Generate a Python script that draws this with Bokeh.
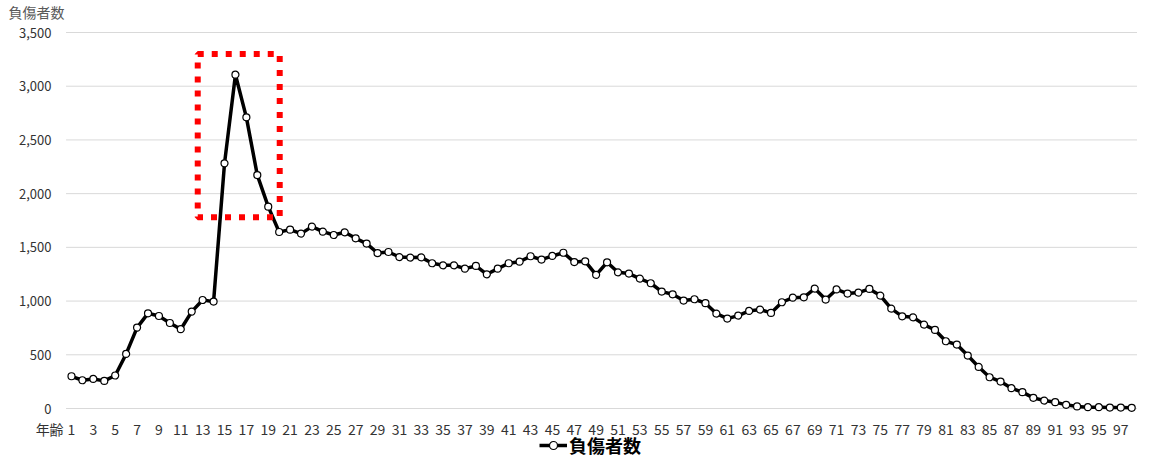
from bokeh.plotting import figure
from bokeh.models import Range1d, FixedTicker, Legend, LegendItem, NumeralTickFormatter
from bokeh.embed import file_html
from bokeh.resources import INLINE

ages = list(range(1, 99))
injured = [300, 263, 275, 257, 307, 508, 753, 886, 861, 796,
           738, 902, 1010, 995, 2282, 3107, 2710, 2173, 1879, 1643,
           1665, 1628, 1693, 1646, 1615, 1640, 1584, 1535, 1447, 1457,
           1410, 1405, 1407, 1352, 1333, 1333, 1302, 1327, 1249, 1302,
           1352, 1367, 1417, 1386, 1420, 1450, 1363, 1370, 1244, 1361,
           1268, 1256, 1209, 1166, 1088, 1063, 1005, 1017, 980, 884,
           837, 865, 908, 921, 890, 989, 1032, 1035, 1116, 1014,
           1108, 1070, 1079, 1113, 1051, 930, 858, 849, 781, 731,
           626, 595, 493, 387, 291, 251, 189, 152, 99, 74,
           59, 34, 19, 12, 12, 9, 9, 6]
x_ticks = list(range(1, 98, 2))
y_ticks = [0, 500, 1000, 1500, 2000, 2500, 3000, 3500]
series_name = "負傷者数"
y_title = "負傷者数"
x_title = "年齢"
x_title_pos = -1
# highlighted region (ages ~13-20, values ~1780-3300)
hl_left, hl_right, hl_bottom, hl_top = 12.55, 20.05, 1780, 3300

FONT = "Noto Sans CJK JP"

W, H = 1137, 459
LEFT, TOP = 30, 22
PX_X = 10.93           # pixels per age
PX_Y = 376 / 3500      # pixels per value unit
ZERO_Y, TOP_Y = 408, 32
x0 = 1 - (71 - LEFT) / PX_X
x1 = 1 + (W - 71) / PX_X
y1 = 3500 + (TOP_Y - TOP) / PX_Y
y0 = -(H - ZERO_Y) / PX_Y

p = figure(width=W, height=H, output_backend="svg", toolbar_location=None,
           x_range=Range1d(x0, x1), y_range=Range1d(y0, y1),
           min_border_left=LEFT, min_border_right=0, min_border_top=TOP, min_border_bottom=0)
p.outline_line_color = None

p.title.text = y_title
p.title.align = "left"
p.title.offset = 8 - LEFT
p.title.text_font = FONT
p.title.text_font_size = "14px"
p.title.text_font_style = "normal"
p.title.text_color = "#595959"
p.title.vertical_align = "middle"
p.title.standoff = 0

p.xgrid.grid_line_color = None
p.ygrid.grid_line_color = None
p.segment(x0=[0.5] * len(y_ticks), x1=[x1] * len(y_ticks), y0=y_ticks, y1=y_ticks,
          line_color="#d9d9d9", line_width=1)

p.xaxis.ticker = FixedTicker(ticks=[x_title_pos] + x_ticks)
p.xaxis.major_label_overrides = {x_title_pos: x_title}
p.xaxis.axis_line_color = None
p.xaxis.major_tick_line_color = None
p.xaxis.minor_tick_line_color = None
p.xaxis.major_tick_out = 0
p.xaxis.major_tick_in = 0
p.xaxis.major_label_text_font = FONT
p.xaxis.major_label_text_font_size = "14px"
p.xaxis.major_label_text_color = "#333333"
p.xaxis.major_label_standoff = -41

p.yaxis.ticker = FixedTicker(ticks=y_ticks)
p.yaxis.formatter = NumeralTickFormatter(format="0,0")
p.yaxis.axis_line_color = None
p.yaxis.major_tick_line_color = None
p.yaxis.minor_tick_line_color = None
p.yaxis.major_tick_out = 0
p.yaxis.major_tick_in = 0
p.yaxis.major_label_text_font = FONT
p.yaxis.major_label_text_font_size = "13px"
p.yaxis.major_label_text_color = "#333333"
p.yaxis.major_label_standoff = -(51 - LEFT)

ln = p.line(ages, injured, line_color="black", line_width=3.5, line_join="round")
sc = p.scatter(ages, injured, marker="circle", size=7, fill_color="white",
               line_color="black", line_width=1.2)

p.quad(left=[hl_left], right=[hl_right], bottom=[hl_bottom], top=[hl_top],
       fill_color=None, line_color="#ff0000", line_width=6, line_dash="6 8",
       line_cap="butt")

legend = Legend(items=[LegendItem(label=series_name, renderers=[ln, sc])],
                location=(509, 1), orientation="horizontal",
                padding=0, margin=0, spacing=0, glyph_width=28, glyph_height=20,
                label_standoff=2, border_line_color=None, background_fill_alpha=0,
                label_text_font=FONT, label_text_font_size="18px",
                label_text_font_style="bold", label_text_color="black")
p.add_layout(legend)

open("out.html", "w").write(file_html(p, INLINE))
